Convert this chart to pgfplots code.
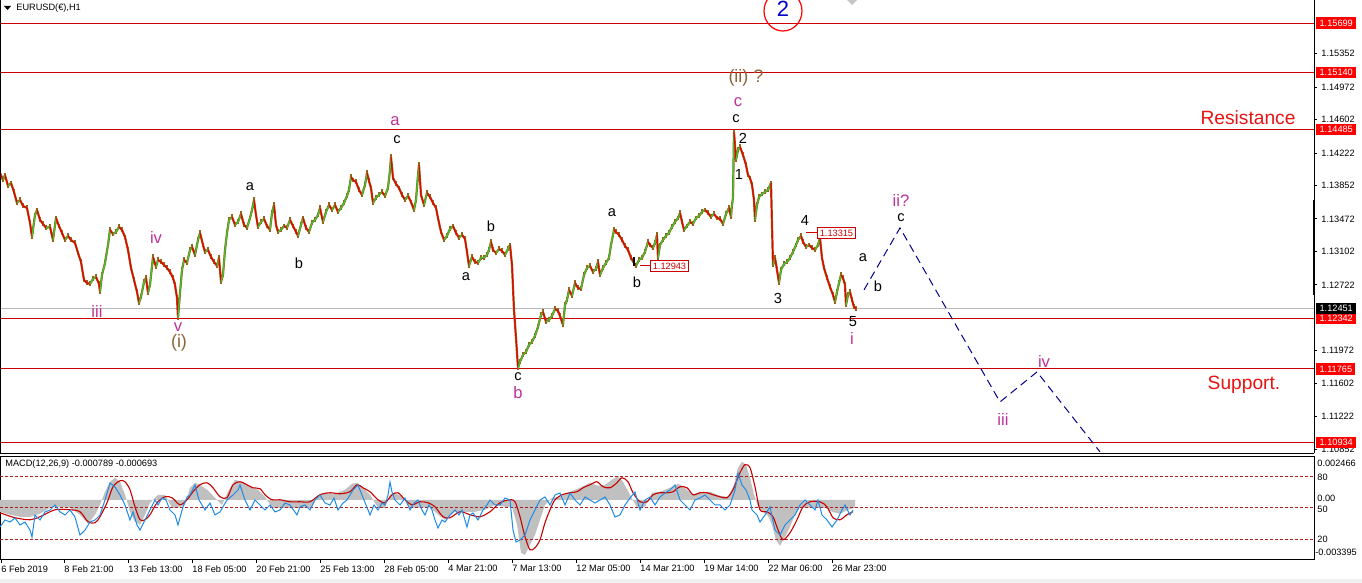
\documentclass[border=0pt]{standalone}
\usepackage{pgfplots}
\pgfplotsset{compat=1.18}
\usepackage{pgfplotstable}
\usepackage{fontspec}
\setmainfont{Liberation Sans}
\definecolor{lvl}{RGB}{205,0,0}
\definecolor{candred}{RGB}{235,0,0}
\definecolor{candgreen}{RGB}{60,200,50}
\definecolor{candbrown}{RGB}{150,100,25}
\definecolor{wavemag}{RGB}{190,50,150}
\definecolor{wavebrown}{RGB}{140,100,55}
\definecolor{projblue}{RGB}{0,0,140}
\definecolor{macdgrey}{RGB}{192,192,192}
\definecolor{macdred}{RGB}{200,0,0}
\definecolor{macdblue}{RGB}{30,140,230}
\definecolor{lvldash}{RGB}{170,30,30}
\definecolor{resred}{RGB}{230,20,20}
\newcommand{\tf}{\fontsize{4.6}{5.5}\selectfont}
\newcommand{\wf}{\fontsize{7.3}{8}\selectfont}
\newcommand{\mf}{\fontsize{8.3}{9}\selectfont}
\newcommand{\brf}{\fontsize{9}{10}\selectfont}
\newcommand{\rf}{\fontsize{9.6}{11}\selectfont}

\pgfplotstableread[row sep=\\]{x p c\\
0 1.13994 0\\ 3 1.13914 1\\ 5 1.13971 0\\ 8 1.13846 1\\ 11 1.13880 0\\ 14 1.13778 0\\ 17 1.13653 1\\ 20 1.13687 0\\ 23 1.13619 0\\ 27 1.13596 0\\
30 1.13426 0\\ 32 1.13266 1\\ 35 1.13516 1\\ 37 1.13573 0\\ 40 1.13460 0\\ 43 1.13414 0\\ 46 1.13369 1\\ 50 1.13380 0\\ 53 1.13232 1\\ 56 1.13482 0\\
59 1.13391 0\\ 62 1.13312 0\\ 65 1.13232 1\\ 68 1.13278 0\\ 71 1.13232 0\\ 75 1.13198 0\\ 78 1.13084 0\\ 81 1.12982 0\\ 84 1.12777 0\\ 87 1.12743 0\\
90 1.12732 1\\ 93 1.12789 1\\ 96 1.12812 0\\ 99 1.12732 0\\ 100 1.12641 1\\ 102 1.12834 1\\ 105 1.12971 1\\ 108 1.13175 1\\ 110 1.13346 0\\ 113 1.13300 1\\
116 1.13323 1\\ 119 1.13380 0\\ 122 1.13346 0\\ 125 1.13266 0\\ 128 1.13119 0\\ 131 1.12914 0\\ 134 1.12777 0\\ 137 1.12641 0\\ 139 1.12516 1\\ 141 1.12584 1\\
144 1.12755 1\\ 146 1.12800 0\\ 148 1.12630 1\\ 150 1.12721 1\\ 153 1.13039 0\\ 156 1.12925 1\\ 158 1.13005 0\\ 161 1.12982 0\\ 164 1.12948 0\\ 167 1.12914 0\\
170 1.12868 0\\ 173 1.12800 0\\ 175 1.12721 0\\ 177 1.12573 0\\ 178 1.12345 1\\ 180 1.12630 1\\ 182 1.12891 1\\ 184 1.13005 0\\ 187 1.12971 1\\ 190 1.13119 1\\
192 1.13153 0\\ 195 1.13062 1\\ 198 1.13232 1\\ 200 1.13312 0\\ 203 1.13175 0\\ 205 1.13096 1\\ 208 1.13119 0\\ 211 1.13039 0\\ 214 1.12982 0\\ 217 1.12937 1\\
219 1.13028 0\\ 221 1.12755 1\\ 223 1.12834 1\\ 225 1.13119 1\\ 227 1.13312 1\\ 229 1.13460 1\\ 232 1.13494 0\\ 235 1.13403 1\\ 238 1.13437 1\\ 241 1.13528 0\\
244 1.13403 0\\ 247 1.13369 1\\ 250 1.13482 1\\ 252 1.13573 1\\ 254 1.13687 0\\ 256 1.13516 0\\ 258 1.13380 1\\ 261 1.13437 1\\ 264 1.13471 0\\ 267 1.13391 0\\
270 1.13346 1\\ 272 1.13539 1\\ 274 1.13630 0\\ 276 1.13403 0\\ 278 1.13323 1\\ 281 1.13346 1\\ 284 1.13391 0\\ 287 1.13369 1\\ 290 1.13460 0\\ 293 1.13391 0\\
296 1.13323 0\\ 298 1.13278 1\\ 301 1.13403 1\\ 303 1.13482 0\\ 306 1.13369 0\\ 309 1.13323 1\\ 312 1.13426 1\\ 315 1.13460 1\\ 318 1.13516 1\\ 320 1.13596 0\\
323 1.13437 1\\ 326 1.13551 1\\ 329 1.13630 0\\ 332 1.13573 1\\ 335 1.13630 0\\ 338 1.13551 1\\ 341 1.13596 1\\ 344 1.13653 1\\ 347 1.13733 1\\ 349 1.13801 1\\
351 1.13949 0\\ 353 1.13914 0\\ 356 1.13892 0\\ 359 1.13801 0\\ 362 1.13744 1\\ 365 1.13858 1\\ 367 1.13994 0\\ 369 1.13903 0\\ 371 1.13823 0\\ 373 1.13653 1\\
376 1.13710 1\\ 379 1.13744 1\\ 382 1.13778 0\\ 385 1.13733 1\\ 388 1.13823 1\\ 390 1.14028 1\\ 391 1.14176 0\\ 393 1.13937 0\\ 396 1.13869 0\\ 399 1.13823 0\\
402 1.13744 0\\ 405 1.13687 1\\ 408 1.13733 0\\ 411 1.13664 0\\ 414 1.13573 1\\ 416 1.13687 1\\ 418 1.13971 1\\ 419 1.14085 0\\ 421 1.13744 0\\ 424 1.13630 1\\
427 1.13767 0\\ 430 1.13721 0\\ 433 1.13653 0\\ 436 1.13596 0\\ 438 1.13482 0\\ 441 1.13323 0\\ 444 1.13232 1\\ 447 1.13278 1\\ 450 1.13357 1\\ 453 1.13391 0\\
456 1.13312 0\\ 459 1.13255 1\\ 462 1.13289 0\\ 465 1.13244 0\\ 467 1.13096 0\\ 469 1.12937 1\\ 472 1.13039 0\\ 475 1.12982 0\\ 478 1.12971 1\\ 481 1.13028 1\\
484 1.13028 1\\ 487 1.13062 1\\ 489 1.13119 1\\ 491 1.13210 0\\ 493 1.13119 0\\ 496 1.13084 1\\ 499 1.13130 0\\ 502 1.13107 0\\ 505 1.13062 1\\ 508 1.13130 1\\
510 1.13175 0\\ 512 1.12948 0\\ 514 1.12436 0\\ 516 1.12118 0\\ 518 1.11777 1\\ 520 1.11845 1\\ 523 1.11925 1\\ 526 1.11959 1\\ 529 1.12038 1\\ 532 1.12073 1\\
535 1.12141 1\\ 538 1.12243 1\\ 541 1.12379 1\\ 543 1.12414 0\\ 546 1.12300 1\\ 549 1.12323 1\\ 552 1.12368 1\\ 555 1.12448 0\\ 558 1.12425 0\\ 560 1.12368 0\\
563 1.12266 1\\ 565 1.12493 1\\ 567 1.12550 1\\ 569 1.12664 0\\ 572 1.12596 1\\ 575 1.12743 0\\ 578 1.12686 0\\ 581 1.12675 1\\ 584 1.12834 1\\ 587 1.12914 1\\
590 1.12937 0\\ 593 1.12868 1\\ 596 1.12903 1\\ 598 1.12982 0\\ 600 1.12834 1\\ 603 1.12914 1\\ 606 1.12971 1\\ 609 1.13028 1\\ 611 1.13175 1\\ 614 1.13346 0\\
616 1.13323 0\\ 619 1.13289 0\\ 622 1.13232 0\\ 625 1.13164 0\\ 628 1.13119 0\\ 631 1.13028 0\\ 634 1.12971 0\\ 636 1.12937 1\\ 639 1.13005 1\\ 642 1.13028 1\\
645 1.13096 1\\ 648 1.13210 0\\ 650 1.13175 0\\ 653 1.13141 1\\ 655 1.13198 1\\ 657 1.13289 0\\ 658 1.13028 1\\ 660 1.13175 1\\ 663 1.13232 1\\ 666 1.13278 1\\
669 1.13312 1\\ 672 1.13380 1\\ 675 1.13437 1\\ 678 1.13482 1\\ 680 1.13539 0\\ 682 1.13437 0\\ 684 1.13346 1\\ 687 1.13391 1\\ 690 1.13437 0\\ 693 1.13414 1\\
696 1.13482 1\\ 699 1.13505 1\\ 702 1.13551 1\\ 705 1.13573 0\\ 708 1.13539 0\\ 711 1.13494 1\\ 714 1.13528 0\\ 717 1.13482 0\\ 720 1.13471 0\\ 723 1.13414 1\\
726 1.13528 1\\ 729 1.13596 0\\ 731 1.13494 1\\ 732 1.13630 1\\ 733 1.13710 1\\ 734 1.14460 0\\ 736 1.14142 1\\ 738 1.14256 1\\ 740 1.14290 0\\ 743 1.14199 0\\
746 1.14085 0\\ 748 1.13971 0\\ 750 1.13937 0\\ 752 1.13858 0\\ 754 1.13687 0\\ 755 1.13460 1\\ 757 1.13630 1\\ 759 1.13721 1\\ 762 1.13755 1\\ 765 1.13778 1\\
768 1.13801 1\\ 771 1.13880 0\\ 772 1.13403 0\\ 773 1.12948 1\\ 775 1.13028 0\\ 777 1.12891 0\\ 779 1.12743 1\\ 781 1.12891 1\\ 784 1.12959 1\\ 787 1.12982 1\\
790 1.13028 1\\ 793 1.13096 1\\ 796 1.13175 1\\ 798 1.13232 1\\ 801 1.13278 0\\ 803 1.13210 0\\ 806 1.13153 1\\ 809 1.13175 0\\ 812 1.13141 0\\ 815 1.13119 1\\
818 1.13175 1\\ 820 1.13255 0\\ 822 1.13028 0\\ 824 1.12914 0\\ 827 1.12800 0\\ 830 1.12698 0\\ 833 1.12607 0\\ 835 1.12527 1\\ 837 1.12641 1\\ 839 1.12743 1\\
841 1.12834 0\\ 843 1.12800 0\\ 845 1.12721 0\\ 846 1.12493 1\\ 848 1.12607 1\\ 850 1.12641 0\\ 852 1.12550 0\\ 854 1.12470 0\\ 856 1.12448 0\\
}\price

\pgfplotstableread[row sep=\\]{x v\\
0 0\\ 0 -0.000676\\ 10 -0.000845\\ 20 -0.000958\\ 30 -0.000958\\ 40 -0.000789\\ 50 -0.000451\\ 60 -0.000395\\ 70 -0.000451\\ 80 -0.000845\\
88 -0.001353\\ 95 -0.000845\\ 100 -0.000282\\ 105 0.000451\\ 110 0.001014\\ 115 0.001240\\ 120 0.001014\\ 125 0.000282\\ 130 -0.000676\\ 135 -0.001240\\
140 -0.001409\\ 145 -0.000845\\ 150 -0.000169\\ 158 0.000282\\ 165 0.000282\\ 172 -0.000451\\ 178 -0.000451\\ 185 -0.000282\\ 190 0.000676\\ 195 0.000958\\
200 0.000845\\ 207 0.000564\\ 215 0.000113\\ 222 -0.000282\\ 228 0.000451\\ 235 0.001127\\ 242 0.001014\\ 250 0.000733\\ 258 0.000564\\ 265 0.000169\\
272 -0.000451\\ 280 -0.000451\\ 295 -0.000451\\ 310 -0.000451\\ 318 0.000169\\ 325 0.000395\\ 335 0.000338\\ 345 0.000564\\ 352 0.000902\\ 357 0.000958\\
362 0.000733\\ 370 0.000282\\ 378 -0.000451\\ 385 -0.000451\\ 390 0.000282\\ 395 0.000395\\ 402 0.000169\\ 410 -0.000451\\ 420 -0.000451\\ 430 -0.000395\\
438 -0.000845\\ 445 -0.001127\\ 455 -0.000676\\ 465 -0.000676\\ 475 -0.000676\\ 485 -0.000564\\ 495 -0.000282\\ 505 -0.000395\\ 512 -0.000395\\ 517 -0.001409\\
521 -0.002987\\ 525 -0.003100\\ 530 -0.002536\\ 535 -0.001973\\ 540 -0.001127\\ 545 -0.000282\\ 552 0.000113\\ 560 0.000169\\ 570 0.000451\\ 580 0.000676\\
590 0.000958\\ 598 0.000789\\ 605 0.000845\\ 612 0.001127\\ 618 0.001353\\ 623 0.001014\\ 630 0.000282\\ 637 -0.000451\\ 645 -0.000395\\ 652 0.000395\\
660 0.000451\\ 670 0.000676\\ 678 0.000902\\ 685 0.000676\\ 692 0.000282\\ 700 0.000451\\ 710 0.000451\\ 720 0.000225\\ 728 0.000169\\ 734 0.000845\\
738 0.001804\\ 742 0.002142\\ 746 0.001973\\ 750 0.001240\\ 754 0.000282\\ 758 -0.000395\\ 763 -0.000676\\ 768 -0.000902\\ 772 -0.001409\\ 776 -0.002254\\
780 -0.002593\\ 785 -0.002085\\ 790 -0.001522\\ 795 -0.000845\\ 800 -0.000451\\ 806 -0.000451\\ 812 -0.000451\\ 818 -0.000451\\ 825 -0.000451\\ 832 -0.000676\\
840 -0.000789\\ 848 -0.000564\\ 855 -0.000451\\ 855 0\\
}\hist

\pgfplotstableread[row sep=\\]{x v\\
0 -0.000733\\ 15 -0.001014\\ 30 -0.001127\\ 40 -0.000958\\ 55 -0.000564\\ 70 -0.000564\\ 80 -0.000676\\ 88 -0.001240\\ 95 -0.001296\\ 100 -0.000958\\
107 -0.000169\\ 113 0.000733\\ 120 0.001071\\ 125 0.001014\\ 130 0.000564\\ 135 -0.000395\\ 140 -0.001127\\ 145 -0.001127\\ 150 -0.000845\\ 157 -0.000169\\
165 0.000169\\ 172 0.000113\\ 180 -0.000282\\ 187 0\\ 193 0.000451\\ 200 0.000845\\ 207 0.000958\\ 213 0.000676\\ 220 0.000169\\ 227 0.000113\\
233 0.000845\\ 240 0.001014\\ 247 0.000845\\ 253 0.000676\\ 260 0.000620\\ 265 0.000282\\ 272 0\\ 280 0\\ 290 -0.000113\\ 300 -0.000113\\
310 -0.000113\\ 320 0.000282\\ 330 0.000395\\ 340 0.000338\\ 350 0.000451\\ 357 0.000845\\ 363 0.000676\\ 370 0.000451\\ 378 0\\ 385 -0.000169\\
392 0.000282\\ 398 0.000395\\ 405 0\\ 412 -0.000282\\ 420 -0.000113\\ 428 -0.000169\\ 435 -0.000395\\ 443 -0.000958\\ 450 -0.001014\\ 460 -0.000676\\
470 -0.000845\\ 480 -0.000958\\ 490 -0.000676\\ 500 -0.000169\\ 510 0\\ 515 -0.000113\\ 520 -0.000958\\ 525 -0.002085\\ 530 -0.002818\\ 535 -0.002705\\
540 -0.002254\\ 545 -0.001296\\ 550 -0.000564\\ 555 0\\ 562 0.000282\\ 570 0.000395\\ 577 0.000451\\ 583 0.000676\\ 590 0.000845\\ 597 0.001014\\
603 0.000733\\ 610 0.000676\\ 617 0.000958\\ 622 0.001240\\ 628 0.001014\\ 633 0.000395\\ 640 -0.000113\\ 647 -0.000113\\ 653 0.000282\\ 660 0.000395\\
667 0.000395\\ 673 0.000451\\ 680 0.000733\\ 687 0.000676\\ 693 0.000282\\ 700 0.000395\\ 707 0.000395\\ 713 0.000282\\ 720 0.000169\\ 727 0.000113\\
733 0.000564\\ 740 0.001522\\ 745 0.001973\\ 750 0.001804\\ 755 0.000733\\ 760 -0.000564\\ 767 -0.000676\\ 773 -0.000958\\ 778 -0.001691\\ 783 -0.002254\\
790 -0.001860\\ 797 -0.001127\\ 803 -0.000395\\ 810 -0.000113\\ 820 -0.000113\\ 827 -0.000395\\ 833 -0.001014\\ 840 -0.001127\\ 847 -0.000845\\ 853 -0.000676\\
}\signal

\pgfplotstableread[row sep=\\]{x s\\
0 31.7\\ 5 38.5\\ 10 36.5\\ 15 40.4\\ 20 33.7\\ 25 36.5\\ 30 28.8\\ 32 22.1\\ 35 43.3\\ 40 38.5\\ 45 46.2\\ 50 48.1\\ 55 52.9\\ 60 46.2\\ 65 43.3\\
70 48.1\\ 75 41.3\\ 80 24.0\\ 85 28.8\\ 90 36.5\\ 95 38.5\\ 100 43.3\\ 105 57.7\\ 110 74.0\\ 115 70.2\\ 120 62.5\\ 125 52.9\\ 130 38.5\\ 133 46.2\\ 137 33.7\\
140 28.8\\ 145 38.5\\ 150 48.1\\ 155 57.7\\ 158 52.9\\ 162 59.6\\ 166 57.7\\ 170 48.1\\ 175 43.3\\ 178 33.7\\ 183 51.0\\ 187 60.6\\ 190 62.5\\ 195 72.1\\
199 57.7\\ 202 52.9\\ 205 48.1\\ 210 54.8\\ 215 43.3\\ 220 46.2\\ 224 52.9\\ 227 57.7\\ 233 62.5\\ 238 67.3\\ 240 72.1\\ 245 57.7\\ 250 48.1\\ 255 57.7\\
260 52.9\\ 265 48.1\\ 270 52.9\\ 275 46.2\\ 280 48.1\\ 285 54.8\\ 290 52.9\\ 297 43.3\\ 300 51.0\\ 305 52.9\\ 310 48.1\\ 315 57.7\\ 320 62.5\\ 325 54.8\\
330 52.9\\ 334 59.6\\ 338 48.1\\ 343 54.8\\ 347 57.7\\ 353 67.3\\ 358 72.1\\ 362 62.5\\ 366 52.9\\ 370 43.3\\ 374 52.9\\ 378 48.1\\ 382 54.8\\ 385 52.9\\
388 62.5\\ 390 75.0\\ 392 65.4\\ 395 57.7\\ 400 52.9\\ 405 59.6\\ 410 48.1\\ 414 54.8\\ 418 57.7\\ 422 48.1\\ 425 43.3\\ 429 52.9\\ 432 48.1\\ 435 38.5\\
438 30.8\\ 442 38.5\\ 445 36.5\\ 450 43.3\\ 455 48.1\\ 459 43.3\\ 462 48.1\\ 467 31.7\\ 470 43.3\\ 473 45.2\\ 478 38.5\\ 483 48.1\\ 487 52.9\\ 490 57.7\\
495 52.9\\ 500 52.9\\ 505 59.6\\ 510 57.7\\ 513 28.8\\ 516 17.3\\ 520 19.2\\ 525 24.0\\ 530 38.5\\ 535 48.1\\ 540 57.7\\ 545 60.6\\ 550 52.9\\ 555 62.5\\
560 64.4\\ 565 52.9\\ 570 64.4\\ 575 57.7\\ 580 52.9\\ 585 60.6\\ 590 57.7\\ 595 54.8\\ 600 57.7\\ 605 60.6\\ 610 52.9\\ 615 41.3\\ 620 43.3\\ 625 52.9\\
630 59.6\\ 635 65.4\\ 640 48.1\\ 645 57.7\\ 650 60.6\\ 655 52.9\\ 660 60.6\\ 665 64.4\\ 670 67.3\\ 675 72.1\\ 680 57.7\\ 685 52.9\\ 690 48.1\\ 695 57.7\\
700 59.6\\ 705 62.5\\ 710 57.7\\ 715 52.9\\ 720 52.9\\ 725 48.1\\ 730 52.9\\ 735 67.3\\ 738 83.7\\ 742 72.1\\ 746 67.3\\ 750 57.7\\ 752 48.1\\ 757 43.3\\
760 36.5\\ 765 43.3\\ 770 51.0\\ 775 28.8\\ 780 24.0\\ 785 33.7\\ 790 38.5\\ 795 43.3\\ 800 52.9\\ 805 57.7\\ 810 52.9\\ 815 48.1\\ 818 57.7\\ 822 43.3\\
827 38.5\\ 832 31.7\\ 837 38.5\\ 842 48.1\\ 845 52.9\\ 850 43.3\\ 853 48.1\\
}\blue

\begin{document}
\begin{tikzpicture}[x=0.5pt,y=-0.5pt]
\useasboundingbox (0,0) rectangle (1362,583);
\fill[white] (0,0) rectangle (1362,583);
\fill[gray!12] (0,579) rectangle (1362,583);
\coordinate (mainNW) at (0,0);
\coordinate (macdNW) at (0,456);

% ---------------- main price panel
\begin{axis}[
  at={(mainNW)}, anchor=north west, scale only axis,
  width=657pt, height=226.5pt,
  xmin=0, xmax=1314, ymin=1.10809, ymax=1.15961,
  axis x line*=bottom, axis y line*=right,
  axis line style={-, black, line width=0.5pt},
  xtick=\empty,
  ytick={1.10852,1.11222,1.11602,1.11972,1.12722,1.13102,1.13472,1.13852,1.14222,1.14602,1.14972,1.15352},
  yticklabels={1.10852,1.11222,1.11602,1.11972,1.12722,1.13102,1.13472,1.13852,1.14222,1.14602,1.14972,1.15352},
  yticklabel style={font=\tf, inner sep=0pt, xshift=2pt},
  tick align=outside, major tick length=1.5pt,
  ytick style={black, line width=0.4pt},
  colormap={updown}{color=(candred) color=(candgreen)},
  point meta min=0, point meta max=1,
  clip=false,
]
\addplot[lvl, line width=0.5pt] coordinates {(0,1.15699) (1314,1.15699)};
\addplot[lvl, line width=0.5pt] coordinates {(0,1.15140) (1314,1.15140)};
\addplot[lvl, line width=0.5pt] coordinates {(0,1.14485) (1314,1.14485)};
\addplot[lvl, line width=0.5pt] coordinates {(0,1.12342) (1314,1.12342)};
\addplot[lvl, line width=0.5pt] coordinates {(0,1.11765) (1314,1.11765)};
\addplot[lvl, line width=0.5pt] coordinates {(0,1.10934) (1314,1.10934)};
\addplot[gray!55, line width=0.5pt] coordinates {(0,1.12451) (1314,1.12451)};
\addplot[draw=none, mark=none, error bars/.cd, y dir=both, y fixed=0.00028, error mark=none,
  error bar style={candbrown, line width=0.55pt}] table[x=x,y=p]{\price};
\addplot[candbrown, line width=1.1pt, line join=round] table[x=x,y=p]{\price};
\addplot[mesh, shader=flat corner, point meta=explicit, line width=0.6pt] table[x=x,y=p,meta=c]{\price};
\addplot[black, line width=1pt] coordinates {(634,1.13039) (634,1.12937)};
\addplot[lvl, line width=0.5pt] coordinates {(640,1.12943) (650,1.12943)};
\addplot[lvl, line width=0.5pt] coordinates {(806,1.13315) (817,1.13315)};
\addplot[projblue, line width=0.5pt, dash pattern=on 4pt off 2.5pt] coordinates {(864,1.12664) (900,1.13369) (1000,1.11390) (1037,1.11731) (1100,1.10822)};
\end{axis}

% ---------------- MACD panel
\begin{axis}[
  at={(macdNW)}, anchor=north west, scale only axis,
  width=657pt, height=52pt,
  xmin=0, xmax=1314, ymin=-0.003395, ymax=0.002466,
  axis line style={black, line width=0.5pt},
  xtick={1,64,128,192,256,320,384,448,512,576,640,704,768,832},
  xticklabels={6 Feb 2019,8 Feb 21:00,13 Feb 13:00,18 Feb 05:00,20 Feb 21:00,25 Feb 13:00,28 Feb 05:00,4 Mar 21:00,7 Mar 13:00,12 Mar 05:00,14 Mar 21:00,19 Mar 14:00,22 Mar 06:00,26 Mar 23:00},
  xticklabel style={font=\tf, anchor=north west, inner sep=0pt, yshift=-1pt},
  xtick pos=left, ytick=\empty,
  tick align=outside, major tick length=1.5pt,
  xtick style={black, line width=0.4pt},
]
\addplot[fill=macdgrey, draw=none] table[x=x,y=v]{\hist} \closedcycle;
\addplot[macdred, line width=0.55pt, smooth] table[x=x,y=v]{\signal};
\end{axis}
\begin{axis}[
  at={(macdNW)}, anchor=north west, scale only axis,
  width=657pt, height=52pt,
  xmin=0, xmax=1314, ymin=0, ymax=100,
  hide axis,
]
\addplot[lvldash, line width=0.5pt, dash pattern=on 1.5pt off 1pt] coordinates {(0,80) (1314,80)};
\addplot[lvldash, line width=0.5pt, dash pattern=on 1.5pt off 1pt] coordinates {(0,50) (1314,50)};
\addplot[lvldash, line width=0.5pt, dash pattern=on 1.5pt off 1pt] coordinates {(0,20) (1314,20)};
\addplot[macdblue, line width=0.5pt] table[x=x,y=s]{\blue};
\end{axis}

% left border of main panel and axis marker
\draw[black, line width=0.5pt] (0.5,0) -- (0.5,453);
\draw[black, line width=1pt] (1314,200) -- (1314,295);

% right axis price boxes
\foreach \yy/\lab in {23/1.15699, 72.2/1.15140, 129.8/1.14485, 318.3/1.12342, 369/1.11765, 442.1/1.10934}{
  \node[anchor=west, fill=red, text=white, font=\tf, inner xsep=1.6pt, inner ysep=0pt, minimum height=5.6pt] at (1316,\yy) {\lab};
}
\node[anchor=west, fill=black, text=white, font=\tf, inner xsep=1.6pt, inner ysep=0pt, minimum height=5.6pt] at (1316,308.7) {1.12451};

% price labels on chart
\node[anchor=west, draw=lvl, fill=white, text=lvl, font=\tf, inner xsep=1.2pt, inner ysep=0pt, minimum height=5.4pt, line width=0.45pt] at (650,266) {1.12943};
\node[anchor=west, draw=lvl, fill=white, text=lvl, font=\tf, inner xsep=1.2pt, inner ysep=0pt, minimum height=5.4pt, line width=0.45pt] at (817,233) {1.13315};

% MACD right labels
\node[anchor=west, font=\tf, inner sep=0pt] at (1317,463) {0.002466};
\node[anchor=west, font=\tf, inner sep=0pt] at (1317,477) {80};
\node[anchor=west, font=\tf, inner sep=0pt] at (1317,498) {0.00};
\node[anchor=west, font=\tf, inner sep=0pt] at (1317,509) {50};
\node[anchor=west, font=\tf, inner sep=0pt] at (1317,539) {20};
\node[anchor=west, font=\tf, inner sep=0pt] at (1315,552) {-0.003395};
\node[anchor=west, font=\tf, inner sep=0pt] at (5,464) {MACD(12,26,9) -0.000789 -0.000693};

% title
\fill[black] (4,6) -- (11,6) -- (7.5,10) -- cycle;
\node[anchor=west, font=\tf, inner sep=0pt] at (16,8) {EURUSD(€),H1};

% circle 2 and marker
\draw[red, line width=0.6pt] (783,11) ellipse [x radius=9.5pt, y radius=10pt];
\node[text=blue!80!black, font=\fontsize{11}{12}\selectfont, inner sep=0pt] at (783,9) {2};
\fill[gray!45] (846,-1) -- (852,-7) -- (858,-1) -- (852,5) -- cycle;

% wave labels
\node[font=\brf, text=wavebrown, inner sep=0pt] at (746,78) {(ii) ?};
\node[font=\mf, text=wavemag, inner sep=0pt] at (738,102) {c};
\node[font=\wf, inner sep=0pt] at (736,119) {c};
\node[font=\wf, inner sep=0pt] at (743,138) {2};
\node[font=\wf, inner sep=0pt] at (739,174) {1};
\node[font=\mf, text=wavemag, inner sep=0pt] at (395,121) {a};
\node[font=\wf, inner sep=0pt] at (397,140) {c};
\node[font=\wf, inner sep=0pt] at (250,187) {a};
\node[font=\wf, inner sep=0pt] at (299,263) {b};
\node[font=\mf, text=wavemag, inner sep=0pt] at (156,237) {iv};
\node[font=\mf, text=wavemag, inner sep=0pt] at (97,311) {iii};
\node[font=\mf, text=wavemag, inner sep=0pt] at (178,327) {v};
\node[font=\brf, text=wavebrown, inner sep=0pt] at (179,343) {(i)};
\node[font=\wf, inner sep=0pt] at (466,277) {a};
\node[font=\wf, inner sep=0pt] at (491,226) {b};
\node[font=\wf, inner sep=0pt] at (518,377) {c};
\node[font=\mf, text=wavemag, inner sep=0pt] at (518,393) {b};
\node[font=\wf, inner sep=0pt] at (612,213) {a};
\node[font=\wf, inner sep=0pt] at (637,282) {b};
\node[font=\wf, inner sep=0pt] at (778,298) {3};
\node[font=\wf, inner sep=0pt] at (805,220) {4};
\node[font=\wf, inner sep=0pt] at (853,322) {5};
\node[font=\mf, text=wavemag, inner sep=0pt] at (852,338) {i};
\node[font=\wf, inner sep=0pt] at (863,258) {a};
\node[font=\wf, inner sep=0pt] at (878,286) {b};
\node[font=\mf, text=wavemag, inner sep=0pt] at (901,200) {ii?};
\node[font=\wf, inner sep=0pt] at (901,218) {c};
\node[font=\mf, text=wavemag, inner sep=0pt] at (1003,419) {iii};
\node[font=\mf, text=wavemag, inner sep=0pt] at (1044,361) {iv};
\node[font=\rf, text=resred, inner sep=0pt] at (1248,118) {Resistance};
\node[font=\rf, text=resred, inner sep=0pt] at (1244,385) {Support.};
\end{tikzpicture}
\end{document}
